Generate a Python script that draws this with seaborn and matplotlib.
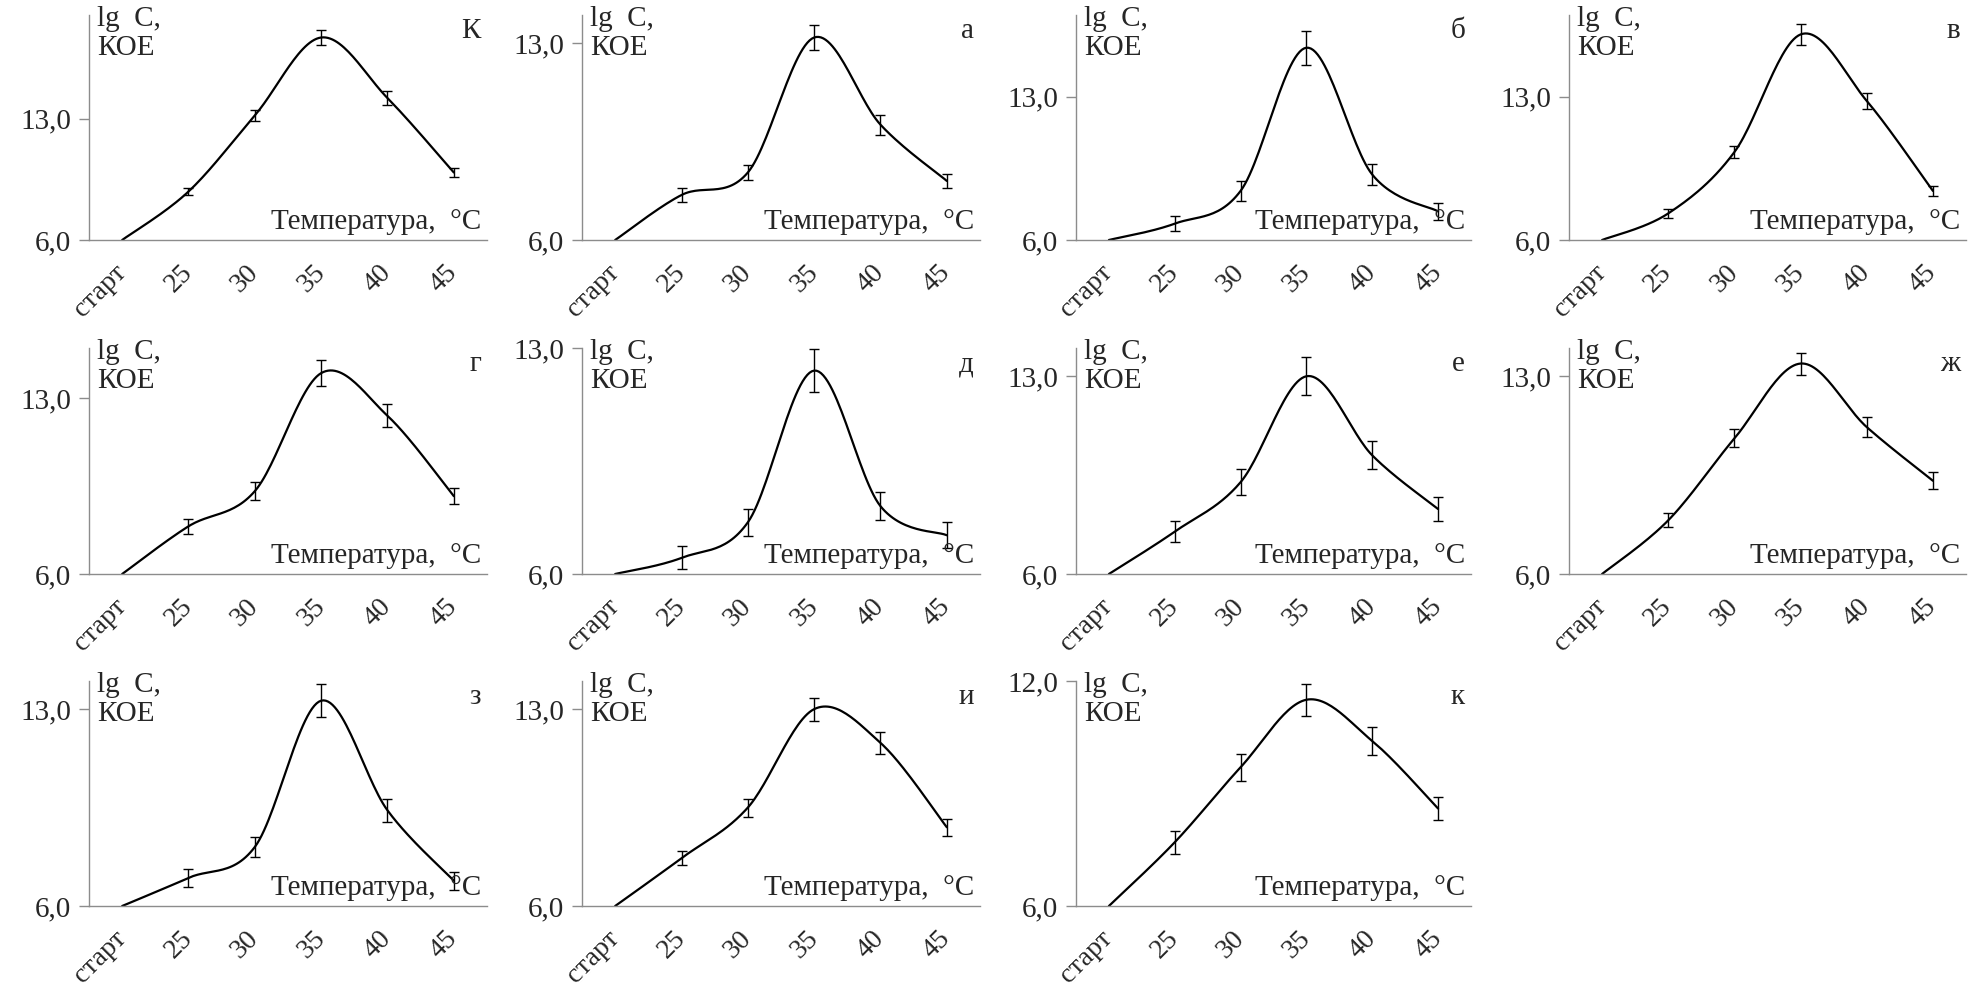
import matplotlib

matplotlib.use("Agg")
import matplotlib.pyplot as plt
import numpy as np
import pandas as pd
import seaborn as sns
from matplotlib.ticker import FixedLocator, FuncFormatter

""" Parameter settings """
sns.set_style("white")
plt.rcParams["font.family"] = ["Liberation Serif", "DejaVu Serif"]
plt.rcParams["font.size"] = 21
axis_grey = "#8c8c8c"

""" Data (read off the reference) """
categories = ["старт", "25", "30", "35", "40", "45"]

panel_letters = ["К", "а", "б", "в", "г", "д", "е", "ж", "з", "и", "к"]

vals_K = [6.0, 8.8, 13.2, 17.7, 14.2, 9.9]
err_K = [0.0, 0.2, 0.3, 0.45, 0.4, 0.25]
vals_a = [6.0, 7.6, 8.4, 13.2, 10.1, 8.1]
err_a = [0.0, 0.25, 0.27, 0.44, 0.35, 0.25]
vals_b = [6.0, 6.8, 8.4, 15.4, 9.2, 7.4]
err_b = [0.0, 0.38, 0.47, 0.83, 0.53, 0.4]
vals_v = [6.0, 7.3, 10.3, 16.05, 12.8, 8.4]
err_v = [0.0, 0.2, 0.3, 0.5, 0.38, 0.25]
vals_g = [6.0, 7.9, 9.3, 14.0, 12.3, 9.1]
err_g = [0.0, 0.29, 0.35, 0.52, 0.45, 0.33]
vals_d = [6.0, 6.5, 7.6, 12.3, 8.1, 7.2]
err_d = [0.0, 0.36, 0.42, 0.66, 0.43, 0.4]
vals_e = [6.0, 7.5, 9.25, 13.0, 10.2, 8.3]
err_e = [0.0, 0.38, 0.47, 0.68, 0.5, 0.41]
vals_zh = [6.0, 7.9, 10.8, 13.45, 11.2, 9.3]
err_zh = [0.0, 0.25, 0.32, 0.39, 0.35, 0.3]
vals_z = [6.0, 7.0, 8.1, 13.3, 9.4, 6.9]
err_z = [0.0, 0.32, 0.35, 0.59, 0.4, 0.32]
vals_i = [6.0, 7.7, 9.5, 13.0, 11.8, 8.8]
err_i = [0.0, 0.25, 0.32, 0.41, 0.4, 0.31]
vals_k = [6.0, 7.7, 9.7, 11.5, 10.4, 8.6]
err_k = [0.0, 0.3, 0.36, 0.42, 0.38, 0.3]

all_vals = [vals_K, vals_a, vals_b, vals_v, vals_g, vals_d,
            vals_e, vals_zh, vals_z, vals_i, vals_k]
all_errs = [err_K, err_a, err_b, err_v, err_g, err_d,
            err_e, err_zh, err_z, err_i, err_k]
y_max = [19, 14, 17, 17, 15, 13, 14, 14, 14, 14, 12]
y_top_tick = [13, 13, 13, 13, 13, 13, 13, 13, 13, 13, 12]

# axes boxes in pixels: (left, right) per column, (top, bottom) per row
col_px = [(89, 487), (582, 980), (1076, 1471), (1569, 1966)]
row_px = [(15, 240), (348, 574), (681, 906)]
W, H = 1977, 990


def smooth_curve(y, steps=30):
    """Excel-like smoothed line (Catmull-Rom as cubic Bezier)."""
    x = np.arange(len(y), dtype=float)
    y = np.asarray(y, dtype=float)
    pts = np.column_stack([x, y])
    ext = np.vstack([pts[0], pts, pts[-1]])
    out = []
    t = np.linspace(0, 1, steps)[:, None]
    for i in range(len(pts) - 1):
        p0, p1 = ext[i + 1], ext[i + 2]
        c1 = p0 + (ext[i + 2] - ext[i]) / 6
        c2 = p1 - (ext[i + 3] - ext[i + 1]) / 6
        seg = ((1 - t) ** 3) * p0 + 3 * ((1 - t) ** 2) * t * c1 \
            + 3 * (1 - t) * t ** 2 * c2 + t ** 3 * p1
        out.append(seg if i == 0 else seg[1:])
    out = np.vstack(out)
    return pd.DataFrame({"x": out[:, 0], "y": out[:, 1]})


def panel(ax, values, errors, letter, ymax, ytop):
    curve = smooth_curve(values)
    sns.lineplot(data=curve, x="x", y="y", color="black", linewidth=1.6,
                 sort=False, estimator=None, ax=ax)
    xs = np.arange(len(values))
    ax.errorbar(xs[1:], values[1:], yerr=errors[1:], fmt="none",
                ecolor="black", elinewidth=1.0, capsize=3.5, capthick=1.0)

    ax.set_xlim(-0.5, len(categories) - 0.5)
    ax.set_ylim(6, ymax)
    ax.set_xlabel("")
    ax.set_ylabel("")

    ax.set_xticks(xs)
    ax.set_xticklabels(categories, rotation=45, ha="right",
                       rotation_mode="anchor", va="center")
    ax.xaxis.set_minor_locator(FixedLocator(np.arange(-0.5, 5.0, 1.0)))
    ax.tick_params(axis="x", which="major", length=0, pad=21, labelsize=20)
    ax.tick_params(axis="x", which="minor", length=7, width=1,
                   color=axis_grey, direction="out")
    ax.set_yticks([6, ytop])
    ax.yaxis.set_major_formatter(
        FuncFormatter(lambda v, p: f"{v:.1f}".replace(".", ",")))
    ax.tick_params(axis="y", length=7, width=1, color=axis_grey,
                   direction="out", pad=6, labelsize=21, left=True)

    for side in ["top", "right"]:
        ax.spines[side].set_visible(False)
    for side in ["left", "bottom"]:
        ax.spines[side].set_color(axis_grey)
        ax.spines[side].set_linewidth(1.0)

    ax.text(0.02, 1.04, "lg  C,\nКОЕ", transform=ax.transAxes,
            ha="left", va="top", fontsize=21, linespacing=1.15)
    ax.text(0.985, 0.985, letter, transform=ax.transAxes,
            ha="right", va="top", fontsize=21)
    ax.text(0.985, 0.05, "Температура,  °C", transform=ax.transAxes,
            ha="right", va="baseline", fontsize=21)


fig = plt.figure(figsize=(W / 100, H / 100), dpi=100)
for n in range(len(all_vals)):
    r, c = divmod(n, 4)
    left, right = col_px[c]
    top, bottom = row_px[r]
    ax = fig.add_axes([left / W, 1 - bottom / H,
                       (right - left) / W, (bottom - top) / H])
    panel(ax, all_vals[n], all_errs[n], panel_letters[n],
          y_max[n], y_top_tick[n])

plt.savefig("out.png", dpi=100, facecolor="white")
